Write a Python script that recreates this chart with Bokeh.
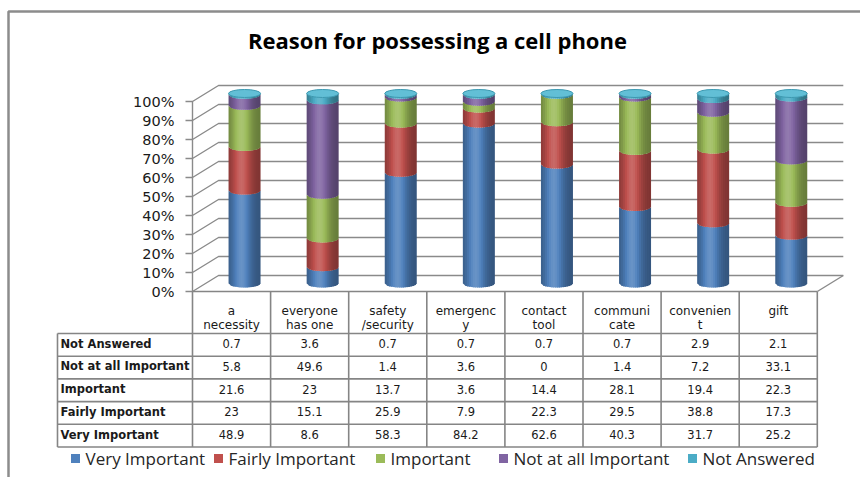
import math
import numpy as np
from bokeh.plotting import figure
from bokeh.models import Range1d
from bokeh.embed import file_html
from bokeh.resources import INLINE
from bokeh.core.properties import value

# ---------------- data ----------------
title = "Reason for possessing a cell phone"
categories = ["a\nnecessity", "everyone\nhas one", "safety\n/security", "emergenc\ny",
              "contact\ntool", "communi\ncate", "convenien\nt", "gift"]
series_names = ["Very Important", "Fairly Important", "Important",
                "Not at all Important", "Not Answered"]
very_important = [48.9, 8.6, 58.3, 84.2, 62.6, 40.3, 31.7, 25.2]
fairly_important = [23, 15.1, 25.9, 7.9, 22.3, 29.5, 38.8, 17.3]
important = [21.6, 23, 13.7, 3.6, 14.4, 28.1, 19.4, 22.3]
not_at_all_important = [5.8, 49.6, 1.4, 3.6, 0, 1.4, 7.2, 33.1]
not_answered = [0.7, 3.6, 0.7, 0.7, 0.7, 0.7, 2.9, 2.1]
series_colors = ["#4F81BD", "#C0504D", "#9BBB59", "#8064A2", "#4BACC6"]
y_ticks = [0, 10, 20, 30, 40, 50, 60, 70, 80, 90, 100]
y_tick_labels = ["0%", "10%", "20%", "30%", "40%", "50%", "60%", "70%", "80%", "90%", "100%"]

series_values = [very_important, fairly_important, important, not_at_all_important, not_answered]

# ---------------- layout helpers (pixel -> data) ----------------
W, H = 860, 477
X0, COLW = 192.0, 78.1      # left of the first table column, column width (px)
Y0, PPP = 291.0, 1.9        # pixel of 0 %, pixels per percent


def ux(px):
    return (px - X0) / COLW


def vy(py):
    return (Y0 - py) / PPP


DX = 26 / COLW   # 3-D depth, x
DY = 16 / PPP    # 3-D depth, y

p = figure(width=W, height=H, output_backend="svg", toolbar_location=None,
           x_range=Range1d(ux(0), ux(W)), y_range=Range1d(vy(H), vy(0)),
           min_border=0, outline_line_color=None)
p.axis.visible = False
p.grid.visible = False
p.background_fill_color = "white"

GRID = "#8a8a8a"
LINE = "#858585"
TXT = "#1a1a1a"

# chart frame (top and left edges)
p.line([ux(8), ux(8), ux(W)], [vy(H), vy(11), vy(11)], line_color="#8c8c8c", line_width=2.5)

# title
p.text(x=[ux(437)], y=[vy(39)], text=[title], text_font=value("Open Sans"),
       text_font_size=value("22px"), text_font_style="bold", text_align="center",
       text_baseline="middle", text_color="black")

n = len(categories)

# back-wall gridlines, left wall diagonals, ticks and labels
for t in y_ticks:
    p.line([ux(X0 - 7), 0, DX, n + DX], [t, t, t + DY, t + DY], line_color=GRID, line_width=1.4)
p.line([0, 0], [0, 100], line_color=GRID, line_width=1.4)
p.text(x=[ux(174)] * len(y_ticks), y=y_ticks, text=y_tick_labels,
       text_font=value("DejaVu Sans"), text_font_size=value("14.5px"),
       text_align="right", text_baseline="middle", text_color=TXT)
# floor right edge
p.line([n, n + DX], [0, DY], line_color=GRID, line_width=1.4)


# ---------------- cylinders ----------------
def shade(hexc, t):
    r, g, b = int(hexc[1:3], 16), int(hexc[3:5], 16), int(hexc[5:7], 16)
    f = 0.66 + 0.46 * math.exp(-((t - 0.40) / 0.30) ** 2)
    out = []
    for c in (r, g, b):
        if f <= 1:
            out.append(int(c * f))
        else:
            out.append(int(c + (255 - c) * (f - 1) * 1.2))
    return "#%02x%02x%02x" % tuple(min(255, max(0, v)) for v in out)


R = 16.0 / COLW
EB = 4.0 / PPP
NS = 16
edges = np.linspace(-R, R, NS + 1)
step = edges[1] - edges[0]


def ell(x):
    return EB * math.sqrt(max(0.0, 1 - (x / R) ** 2))


xs_all, ys_all, cols_all = [], [], []
for i in range(n):
    total = sum(s[i] for s in series_values)
    cx = i + 0.5 + DX / 2
    base = DY / 2
    cum = 0.0
    for k, s in enumerate(series_values):
        h = s[i] / total * 100
        if h <= 0:
            continue
        y0 = base + cum
        y1 = base + cum + h
        for j in range(NS):
            xa = edges[j]
            xb = min(R, edges[j + 1] + step * 0.6)   # overlap to hide seams
            tmid = (j + 0.5) / NS
            xs_all.append([cx + xa, cx + xb, cx + xb, cx + xa])
            ys_all.append([y0 - ell(xa), y0 - ell(xb), y1 - ell(xb), y1 - ell(xa)])
            cols_all.append(shade(series_colors[k], tmid))
        cum += h

p.patches(xs_all, ys_all, fill_color=cols_all, line_color=None)

caps_x = [i + 0.5 + DX / 2 for i in range(n)]
caps_y = [DY / 2 + 100] * n
p.ellipse(x=caps_x, y=caps_y, width=2 * R, height=2 * EB, fill_color="#62bfd6",
          line_color="#3b98b0", line_width=1)

# ---------------- data table ----------------
HEAD = 42 / PPP
ROWH = 22.7 / PPP
rows = list(reversed(series_names))
row_vals = list(reversed(series_values))
nrows = len(rows)
top = 0.0
head_bot = top - HEAD
bot = head_bot - nrows * ROWH
lab_left = ux(57)

# horizontal lines
p.line([0, n], [top, top], line_color=LINE, line_width=1.6)
for r_ in range(nrows + 1):
    yy = head_bot - r_ * ROWH
    p.line([lab_left, n], [yy, yy], line_color=LINE, line_width=1.6)
# vertical lines
for c in range(n + 1):
    p.line([c, c], [top, bot], line_color=LINE, line_width=1.6)
p.line([lab_left, lab_left], [head_bot, bot], line_color=LINE, line_width=1.6)

# header text
l1x, l1y, l1t, l2x, l2y, l2t = [], [], [], [], [], []
for i, c in enumerate(categories):
    parts = c.split("\n")
    l1x.append(i + 0.5)
    l1y.append(vy(310))
    l1t.append(parts[0])
    if len(parts) > 1:
        l2x.append(i + 0.5)
        l2y.append(vy(324))
        l2t.append(parts[1])
for xx, yy, tt in ((l1x, l1y, l1t), (l2x, l2y, l2t)):
    p.text(x=xx, y=yy, text=tt, text_font=value("DejaVu Sans"), text_font_size=value("12px"),
           text_align="center", text_baseline="middle", text_color=TXT)

# row labels and numbers
for r_, (name, vals) in enumerate(zip(rows, row_vals)):
    yc = head_bot - (r_ + 0.5) * ROWH + 0.6
    p.text(x=[ux(60)], y=[yc], text=[name], text_font=value("DejaVu Sans"),
           text_font_size=value("11.5px"), text_font_style="bold", text_align="left",
           text_baseline="middle", text_color=TXT)
    p.text(x=[i + 0.5 for i in range(n)], y=[yc] * n, text=["%g" % v for v in vals],
           text_font=value("DejaVu Sans"), text_font_size=value("11.5px"),
           text_align="center", text_baseline="middle", text_color=TXT)

# ---------------- legend ----------------
leg_sq = [75, 218, 380, 503, 692]
leg_y = vy(458)
p.scatter(x=[ux(v) for v in leg_sq], y=[leg_y] * 5, marker="square", size=9,
          fill_color=series_colors, line_color=None)
p.text(x=[ux(v + 10) for v in leg_sq], y=[leg_y] * 5, text=series_names,
       text_font=value("Open Sans"), text_font_size=value("17px"), text_align="left",
       text_baseline="middle", text_color="#262626")

open("out.html", "w").write(file_html(p, INLINE))
